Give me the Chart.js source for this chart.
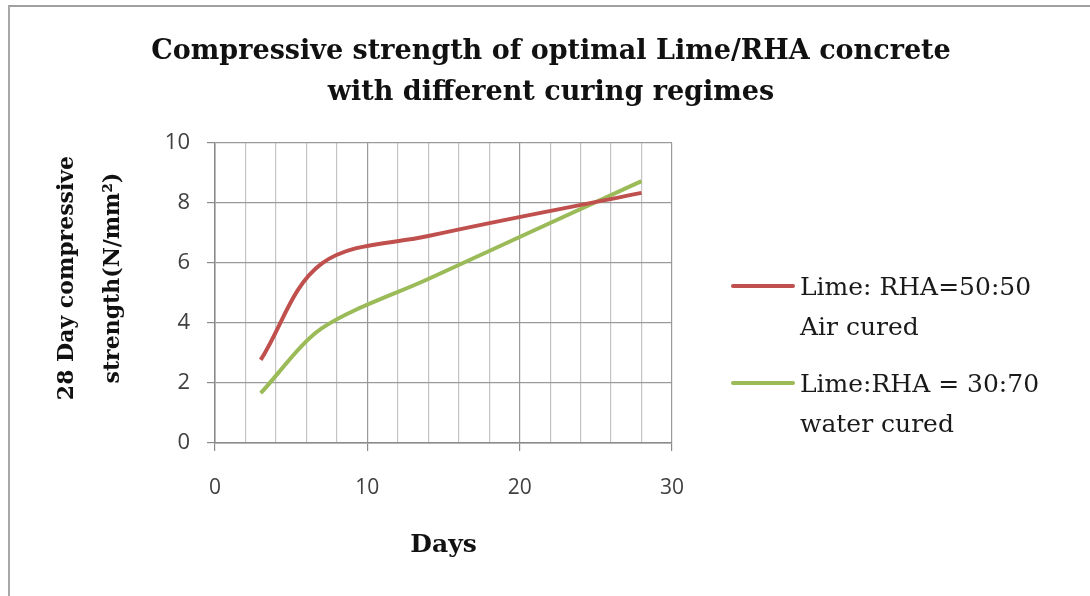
<!DOCTYPE html>
<html>
<head>
<meta charset="utf-8">
<script src="https://cdn.jsdelivr.net/npm/chart.js@4"></script>
<style>
  body { margin: 0; background: #fff; }
  #wrap { position: relative; width: 1090px; height: 596px; }
  #frame { position: absolute; left: 8px; top: 5px; right: 0; bottom: 0;
           border-left: 2px solid #a8a8a8; border-top: 2px solid #a0a0a0; }
  canvas { position: absolute; left: 0; top: 0; }
</style>
</head>
<body>
<div id="wrap">
  <div id="frame"></div>
  <canvas id="chart" width="1090" height="596"></canvas>
</div>
<script>
const days = [3, 7, 14, 28];
const airCured = [2.77, 5.98, 6.9, 8.34];
const waterCured = [1.66, 3.82, 5.47, 8.73];
const airLabel = ['Lime: RHA=50:50', 'Air cured'];
const waterLabel = ['Lime:RHA = 30:70', 'water cured'];
const chartTitle = ['Compressive strength of optimal Lime/RHA concrete', 'with different curing regimes'];
const yTitle = ['28 Day compressive', 'strength(N/mm\u00B2)'];
const xTitle = 'Days';

const serif = "'DejaVu Serif', 'Liberation Serif', serif";
const sans = "'Open Sans', 'Liberation Sans', sans-serif";

function toPoints(xs, ys) {
	return xs.map((x, i) => ({ x: x, y: ys[i] }));
}

// legend with two-line labels right of the plot, and the two-line y title
const sideText = {
	id: 'sideText',
	afterDraw(chart) {
		const ctx = chart.ctx;
		const area = chart.chartArea;
		ctx.save();

		// y axis title, rotated, sitting a bit above the plot centre
		ctx.font = 'bold 22px ' + serif;
		ctx.fillStyle = '#111';
		ctx.textAlign = 'center';
		ctx.textBaseline = 'middle';
		ctx.translate(area.left - 148, (area.top + area.bottom) / 2 - 15);
		ctx.rotate(-Math.PI / 2);
		yTitle.forEach((line, i) => {
			ctx.fillText(line, 0, i * 46);
		});
		ctx.setTransform(1, 0, 0, 1, 0, 0);

		const x0 = area.right + 61;
		let y = area.top + 152;
		ctx.font = '25px ' + serif;
		ctx.fillStyle = '#1a1a1a';
		ctx.textBaseline = 'alphabetic';
		ctx.textAlign = 'left';
		chart.data.datasets.forEach((ds) => {
			ctx.strokeStyle = ds.borderColor;
			ctx.lineWidth = 4;
			ctx.lineCap = 'round';
			ctx.beginPath();
			ctx.moveTo(x0, y - 9);
			ctx.lineTo(x0 + 60, y - 9);
			ctx.stroke();
			ds.label.forEach((line, i) => {
				ctx.fillText(line, x0 + 67, y + i * 40);
			});
			y += 97;
		});
		ctx.restore();
	},
};

const ctx = document.getElementById('chart').getContext('2d');
const myChart = new Chart(ctx, {
	type: 'line',
	data: {
		datasets: [
			{
				label: airLabel,
				data: toPoints(days, airCured),
				borderColor: '#C0504D',
				borderWidth: 4,
				pointRadius: 0,
				tension: 0.35,
				fill: false,
			},
			{
				label: waterLabel,
				data: toPoints(days, waterCured),
				borderColor: '#9BBB59',
				borderWidth: 4,
				pointRadius: 0,
				tension: 0.3,
				fill: false,
			},
		],
	},
	options: {
		responsive: false,
		animation: false,
		layout: { padding: { left: 12, right: 0, top: 0, bottom: 0 } },
		plugins: {
			legend: { display: false },
			tooltip: { enabled: false },
			title: {
				display: true,
				text: chartTitle,
				color: '#111',
				font: { family: serif, size: 27, weight: 'bold', lineHeight: 1.52 },
				padding: { top: 31, bottom: 30 },
			},
		},
		scales: {
			x: {
				type: 'linear',
				min: 0,
				max: 30,
				afterFit: (scale) => { scale.height = 153; },
				ticks: {
					stepSize: 2,
					padding: 24,
					color: '#404040',
					font: { family: sans, size: 21 },
					maxRotation: 0,
					autoSkip: false,
					callback: (v) => (v % 10 === 0 ? v : ''),
				},
				grid: {
					color: (c) => (c.tick && c.tick.value % 10 === 0 ? '#9a9a9a' : '#c4c4c4'),
					tickColor: (c) => (c.tick && c.tick.value % 10 === 0 ? '#8a8a8a' : 'rgba(0,0,0,0)'),
					tickLength: 8,
					lineWidth: 1.2,
				},
				border: { color: '#8a8a8a', width: 1.5 },
				title: {
					display: true,
					text: xTitle,
					color: '#111',
					font: { family: serif, size: 25, weight: 'bold' },
					padding: { top: 0, bottom: 36 },
				},
			},
			y: {
				min: 0,
				max: 10,
				afterFit: (scale) => { scale.width = 203; },
				ticks: {
					stepSize: 2,
					padding: 17,
					color: '#404040',
					font: { family: sans, size: 22 },
				},
				grid: {
					color: '#9a9a9a',
					tickColor: '#8a8a8a',
					tickLength: 8,
					lineWidth: 1.2,
				},
				border: { color: '#8a8a8a', width: 1.5 },
			},
			yr: {
				position: 'right',
				display: true,
				afterFit: (scale) => { scale.width = 418; },
				ticks: { display: false },
				grid: { display: false, drawTicks: false },
				border: { display: false },
			},
		},
	},
	plugins: [sideText],
});
</script>
</body>
</html>
